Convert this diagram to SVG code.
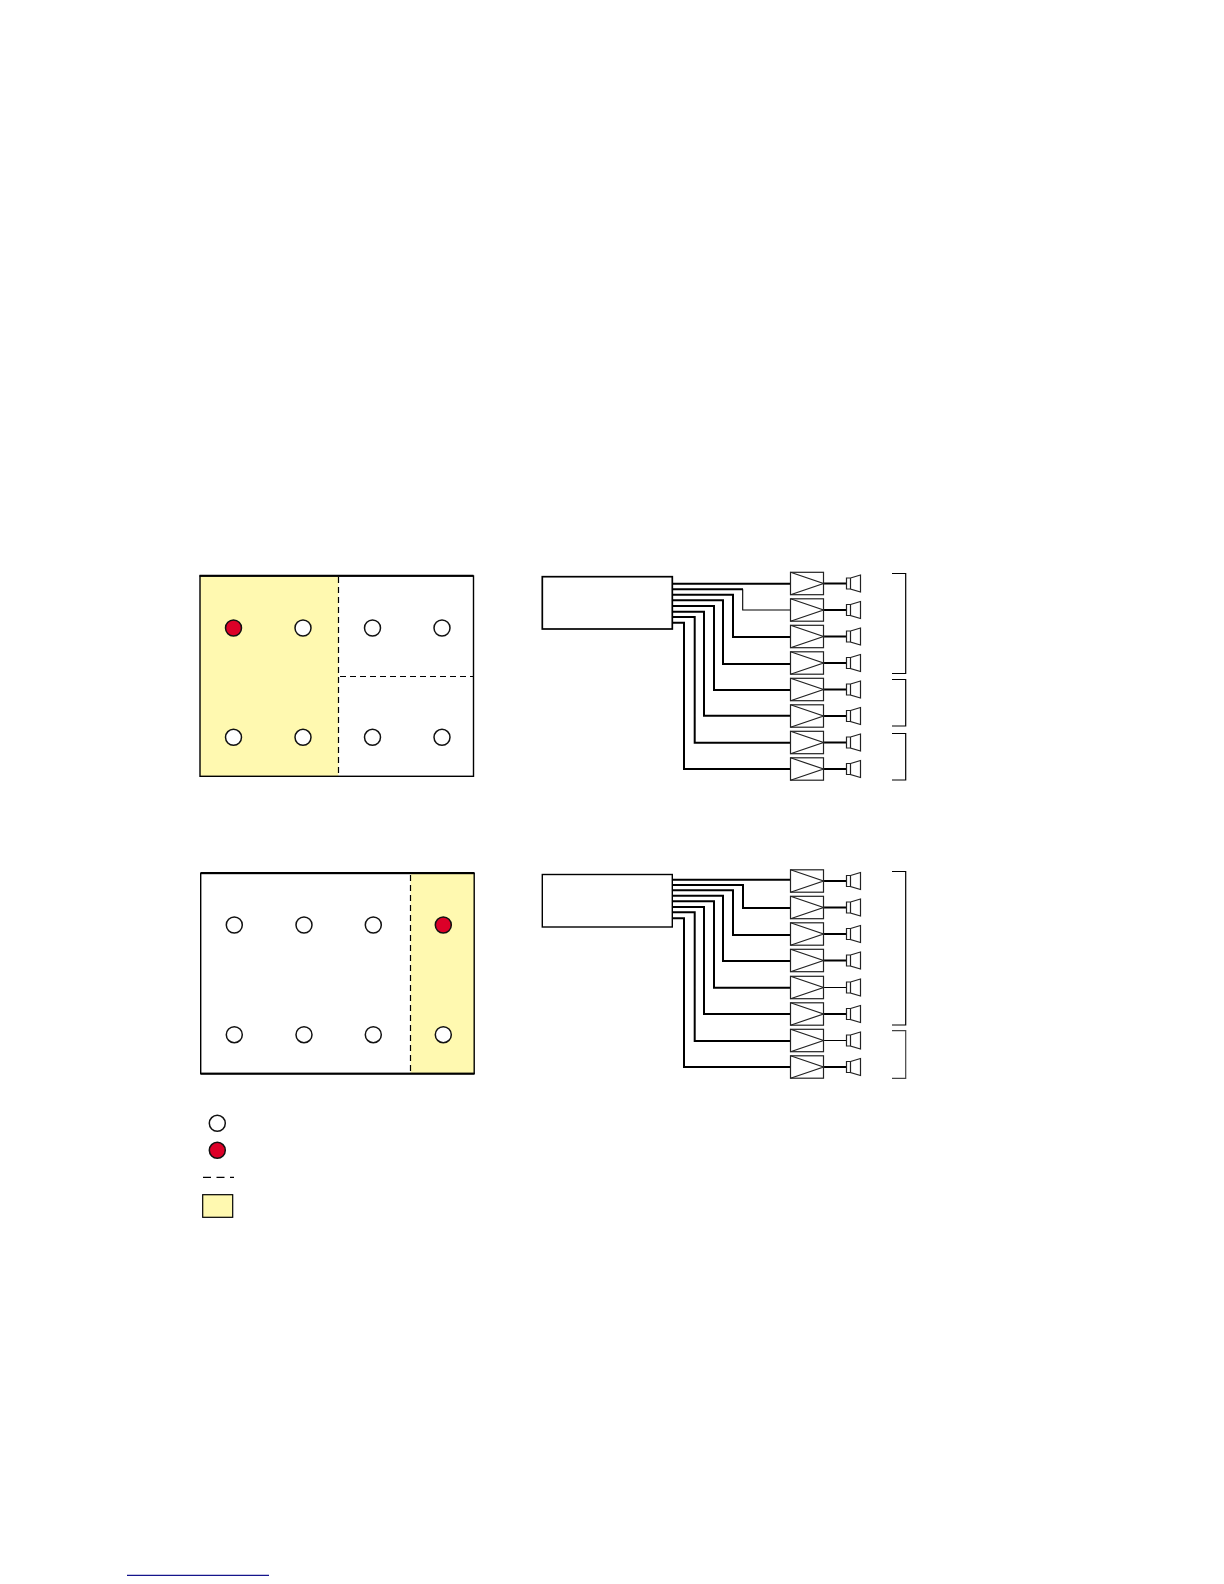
<svg xmlns="http://www.w3.org/2000/svg" xmlns:xlink="http://www.w3.org/1999/xlink" width="1224" height="1584" viewBox="0 0 1224 1584">
<style>
.frame{fill:none;stroke:#000;stroke-width:1.4}
.top{stroke:#000;stroke-width:2;fill:none}
.zone{fill:#fff9b0;stroke:none}
.dash{stroke:#000;stroke-width:1.2;stroke-dasharray:6 4;fill:none}
.mic{fill:#fff;stroke:#111;stroke-width:1.5}
.ref{fill:#dc0028;stroke:#111;stroke-width:1.5}
.wire{fill:none;stroke:#000;stroke-width:2}
.thin{fill:none;stroke:#000;stroke-width:1.1}
.amp{fill:#fff;stroke:#222;stroke-width:1.2}
.brk{fill:none;stroke:#000;stroke-width:1.2}
</style>
<defs>
<circle id="m" r="8"/>
<g id="amp"><rect class="amp" x="790.500" y="-11.200" width="33" height="22.400"/><path class="amp" style="fill:none" d="M790.500-11.200 823.500 0 790.500 11.200"/></g>
<g id="spk"><path class="amp" d="M846.500-5.500H850.500V5.500H846.500ZM850.500-5.500 860.500-8.500V8.500L850.500 5.500Z"/></g>
</defs>
<rect width="1224" height="1584" fill="#fff"/>
<g id="plan-top">
<rect class="zone" x="200" y="576" width="138.500" height="200"/>
<rect class="frame" x="200" y="576" width="273.500" height="200.300"/>
<path class="top" d="M199.500 575.700H473.500"/>
<path class="dash" d="M338.500 577V776M340 676.500H473"/>
<use xlink:href="#m" class="ref" x="233.500" y="628"/>
<use xlink:href="#m" class="mic" x="303" y="628"/>
<use xlink:href="#m" class="mic" x="372.500" y="628"/>
<use xlink:href="#m" class="mic" x="442" y="628"/>
<use xlink:href="#m" class="mic" x="233.500" y="737.300"/>
<use xlink:href="#m" class="mic" x="303" y="737.300"/>
<use xlink:href="#m" class="mic" x="372.500" y="737.300"/>
<use xlink:href="#m" class="mic" x="442" y="737.300"/>
</g>
<g id="plan-bottom">
<rect class="zone" x="410.500" y="873" width="63.500" height="200.500"/>
<rect class="frame" x="200.700" y="873.500" width="273.500" height="200"/>
<path class="top" d="M200.500 873H474.500M200.500 1073.700H474.500"/>
<path class="dash" d="M410.500 875V1073"/>
<use xlink:href="#m" class="mic" x="234.300" y="925"/>
<use xlink:href="#m" class="mic" x="304" y="925"/>
<use xlink:href="#m" class="mic" x="373.300" y="925"/>
<use xlink:href="#m" class="ref" x="443.300" y="925"/>
<use xlink:href="#m" class="mic" x="234.300" y="1034.700"/>
<use xlink:href="#m" class="mic" x="304" y="1034.700"/>
<use xlink:href="#m" class="mic" x="373.300" y="1034.700"/>
<use xlink:href="#m" class="mic" x="443.300" y="1034.700"/>
</g>
<g id="connectors">
<path class="wire" d="M672 583.700H790.500M672 589.300H743"/>
<path class="thin" d="M742.700 589.300V610H790.500"/>
<path class="wire" d="M672 594.700H733V637H790.500M672 600.300H723V664H790.500M672 606H714V690H790.500M672 611.700H704V715.700H790.500M672 617H694.700V742.700H790.500M672 622.700H684V769H790.500"/>
<path class="wire" d="M823.500 583.500H846.500M823.500 610H846.500M823.500 636.500H846.500M823.500 663H846.500M823.500 689.500H846.500M823.500 716H846.500M823.500 742.500H846.500M823.500 769H846.500"/>
<path class="wire" d="M672 879.700H790.500M672 885H743V908H790.500M672 890.300H733V935H790.500M672 895.700H723V961H790.500M672 901.300H714V987.700H790.500M672 907H704V1014H790.500M672 912.300H694.700V1041H790.500M672 918.300H684V1067H790.500"/>
<path class="wire" d="M823.500 881H846.500M823.500 907.500H846.500M823.500 934H846.500M823.500 960.500H846.500M823.500 1014H846.500M823.500 1067H846.500"/>
<path class="thin" d="M823.500 987.500H846.500M823.500 1040.500H846.500"/>
</g>
<g id="controller-top"><rect class="frame" style="stroke-width:1.7" x="542.300" y="576.700" width="130" height="52.300"/></g>
<g id="controller-bottom"><rect class="frame" x="542.300" y="874.500" width="130" height="52.500"/></g>
<g id="amps-top">
<use xlink:href="#amp" y="583.500"/><use xlink:href="#amp" y="610"/><use xlink:href="#amp" y="636.500"/><use xlink:href="#amp" y="663"/><use xlink:href="#amp" y="689.500"/><use xlink:href="#amp" y="716"/><use xlink:href="#amp" y="742.500"/><use xlink:href="#amp" y="769"/>
</g>
<g id="speakers-top">
<use xlink:href="#spk" y="583.500"/><use xlink:href="#spk" y="610"/><use xlink:href="#spk" y="636.500"/><use xlink:href="#spk" y="663"/><use xlink:href="#spk" y="689.500"/><use xlink:href="#spk" y="716"/><use xlink:href="#spk" y="742.500"/><use xlink:href="#spk" y="769"/>
</g>
<g id="amps-bottom">
<use xlink:href="#amp" y="881"/><use xlink:href="#amp" y="907.500"/><use xlink:href="#amp" y="934"/><use xlink:href="#amp" y="960.500"/><use xlink:href="#amp" y="987.500"/><use xlink:href="#amp" y="1014"/><use xlink:href="#amp" y="1040.500"/><use xlink:href="#amp" y="1067"/>
</g>
<g id="speakers-bottom">
<use xlink:href="#spk" y="881"/><use xlink:href="#spk" y="907.500"/><use xlink:href="#spk" y="934"/><use xlink:href="#spk" y="960.500"/><use xlink:href="#spk" y="987.500"/><use xlink:href="#spk" y="1014"/><use xlink:href="#spk" y="1040.500"/><use xlink:href="#spk" y="1067"/>
</g>
<g id="brackets">
<path class="brk" d="M892 573.500H905.700V673.500H892M892 679.500H905.700V726H892M892 733.500H905.700V780H892M892 871.500H905.700V1025H892"/>
<path class="brk" style="stroke:#444" d="M892 1030.700H905.700V1078.300H892"/>
</g>
<g id="legend">
<use xlink:href="#m" class="mic" x="217.300" y="1123.300"/>
<use xlink:href="#m" class="ref" x="217.300" y="1150.300"/>
<path class="dash" style="stroke-dasharray:8 5.500" d="M203 1177.300H234"/>
<rect x="202.700" y="1194.700" width="30" height="22.600" fill="#fff9b0" stroke="#000" stroke-width="1.200"/>
</g>
<path id="footer-rule" d="M127 1575.300H269" stroke="#14148c" stroke-width="1.300" fill="none"/>
</svg>
